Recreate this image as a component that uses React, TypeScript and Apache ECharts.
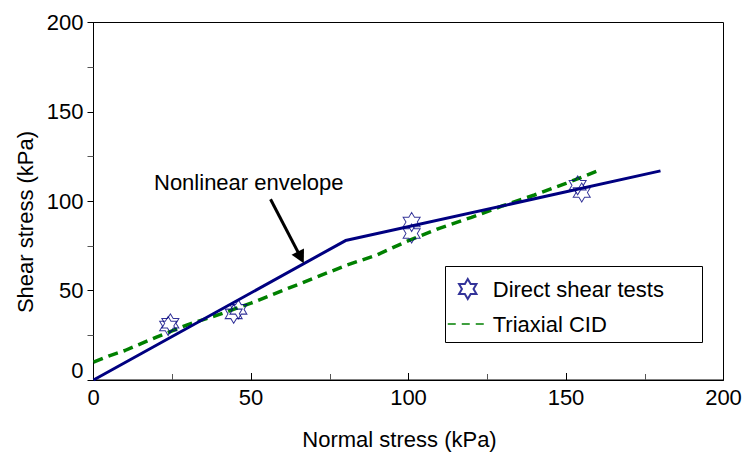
import React, { useEffect, useRef } from "react";
import * as echarts from "echarts";

// Nonlinear failure envelope (piecewise linear)
const envelopeX = [0, 80, 180];
const envelopeY = [0, 78, 117];

// Triaxial CID envelope
const triaxialX = [0, 5, 10, 20, 30, 40, 50, 60, 70, 80, 90, 100, 110, 120, 130, 140, 150, 160];
const triaxialY = [10, 13.5, 16.5, 24, 31, 36.7, 43, 50, 57, 64, 70, 78, 85, 91, 97.5, 103.5, 110, 117];

// Direct shear test results
const shearX = [24.4, 23.7, 44.5, 46, 101, 101, 153.7, 155];
const shearY = [31.7, 30.2, 37, 39.5, 88.4, 82, 108.9, 104.9];

// Annotation arrow (start / end, in kPa)
const arrowFrom = [56.2, 101.1];
const arrowTo = [65.8, 68.6];

const axisMin = 0;
const axisMax = 200;
const axisStep = 50;

const FONT = "'Liberation Sans', Arial, sans-serif";
const NAVY = "#000080";
const GREEN = "#008000";

// Six-pointed star outline
const HEXAGRAM =
  "path://M87 0L116 50L174 50L145 100L174 150L116 150L87 200L58 150L0 150L29 100L0 50L58 50Z";

const zip = (xs: number[], ys: number[]) => xs.map((x, i) => [x, ys[i]]);

export default function App() {
  const ref = useRef<HTMLDivElement>(null);

  useEffect(() => {
    if (!ref.current) return;
    const chart = echarts.init(ref.current, null, { renderer: "svg" });

    const axisCommon = {
      type: "value" as const,
      min: axisMin,
      max: axisMax,
      interval: axisStep,
      splitLine: { show: false },
      axisLine: { show: true, lineStyle: { color: "#000", width: 1 } },
    };

    chart.setOption({
      animation: false,
      backgroundColor: "#fff",
      textStyle: { fontFamily: FONT },
      grid: {
        left: 93.5,
        right: 23.5,
        top: 22.5,
        bottom: 81,
        show: true,
        borderColor: "#000",
        borderWidth: 1,
        backgroundColor: "transparent",
      },
      xAxis: {
        ...axisCommon,
        axisTick: { show: true, inside: true, length: 7, lineStyle: { color: "#000" } },
        minorTick: { show: true, splitNumber: 2, length: 6, lineStyle: { color: "#555" } },
        axisLabel: { color: "#000", fontSize: 22, fontFamily: FONT, margin: 6 },
      },
      yAxis: {
        ...axisCommon,
        axisTick: { show: true, inside: false, length: 6, lineStyle: { color: "#000" } },
        minorTick: { show: true, splitNumber: 2, length: 6, lineStyle: { color: "#555" } },
        axisLabel: {
          color: "#000",
          fontSize: 22,
          fontFamily: FONT,
          margin: 10,
          formatter: (v: number) => (v === 0 ? "{z|0}" : String(v)),
          rich: { z: { fontSize: 22, fontFamily: FONT, color: "#000", padding: [0, 0, 20, 0] } },
        },
      },
      legend: {
        orient: "vertical",
        left: 447,
        top: 278,
        itemWidth: 40,
        itemHeight: 20,
        itemGap: 13,
        padding: 0,
        textStyle: { fontSize: 22, fontFamily: FONT, color: "#000" },
        data: [
          { name: "Direct shear tests", icon: HEXAGRAM },
          {
            name: "Triaxial CID",
            itemStyle: { opacity: 0 },
            lineStyle: { width: 1.5, type: [8, 6], color: GREEN },
          },
        ],
      },
      series: [
        {
          name: "Triaxial CID",
          type: "line",
          data: zip(triaxialX, triaxialY),
          symbol: "none",
          smooth: false,
          lineStyle: { color: GREEN, width: 3.5, type: [10, 6] },
          itemStyle: { color: GREEN },
          z: 2,
        },
        {
          name: "Nonlinear envelope",
          type: "line",
          data: zip(envelopeX, envelopeY),
          symbol: "none",
          lineStyle: { color: NAVY, width: 3 },
          itemStyle: { color: NAVY },
          z: 3,
          markLine: {
            silent: true,
            symbol: ["none", "triangle"],
            symbolSize: [14, 13],
            label: { show: false },
            lineStyle: { color: "#000", width: 3, type: "solid" },
            data: [[{ coord: arrowFrom }, { coord: arrowTo }]],
          },
        },
        {
          name: "Direct shear tests",
          type: "scatter",
          data: zip(shearX, shearY),
          symbol: HEXAGRAM,
          symbolSize: [17, 19],
          itemStyle: { color: "rgba(0,0,0,0)", borderColor: NAVY, borderWidth: 1 },
          z: 4,
        },
      ],
      graphic: [
        {
          type: "rect",
          left: 445,
          top: 266,
          shape: { width: 257, height: 76 },
          style: { fill: "rgba(0,0,0,0)", stroke: "#000", lineWidth: 1 },
          z: 1,
        },
        {
          type: "text",
          x: 154,
          y: 182.5,
          style: {
            text: "Nonlinear envelope",
            fontSize: 22,
            fontFamily: FONT,
            fill: "#000",
            textAlign: "left",
            textVerticalAlign: "middle",
          },
        },
        {
          type: "text",
          x: 399.5,
          y: 439,
          style: {
            text: "Normal stress (kPa)",
            fontSize: 22,
            fontFamily: FONT,
            fill: "#000",
            textAlign: "center",
            textVerticalAlign: "middle",
          },
        },
        {
          type: "text",
          x: 25,
          y: 222,
          rotation: Math.PI / 2,
          style: {
            text: "Shear stress (kPa)",
            fontSize: 22,
            fontFamily: FONT,
            fill: "#000",
            textAlign: "center",
            textVerticalAlign: "middle",
          },
        },
      ],
    });

    return () => chart.dispose();
  }, []);

  return <div ref={ref} style={{ width: 747, height: 461, position: "absolute", left: 0, top: 0 }} />;
}
